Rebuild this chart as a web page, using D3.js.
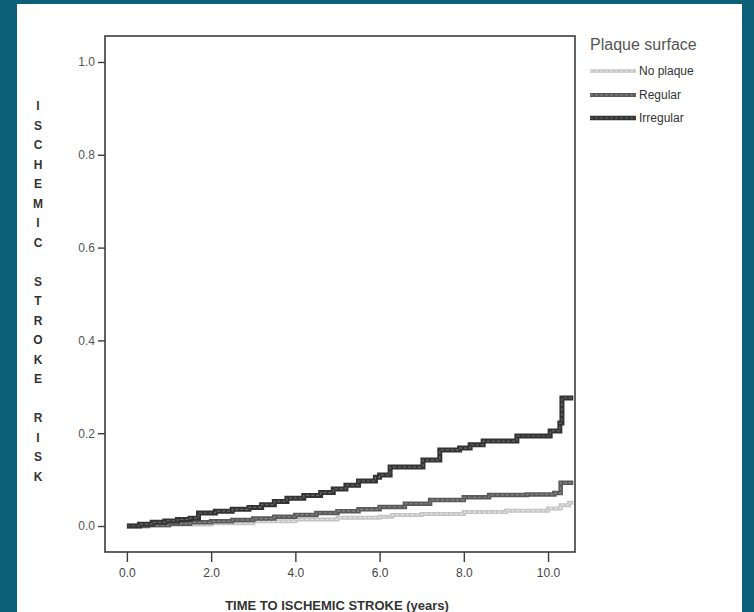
<!DOCTYPE html>
<head>
    <title>Ischemic stroke risk by plaque surface</title>
    <script src="https://d3js.org/d3.v7.min.js"></script>
</head>
<style>
body {
  margin: 0;
  background: #0d6079;
  font-family: "Liberation Sans", Arial, Helvetica, sans-serif;
}
svg { display: block; }
</style>
<body>
    <svg></svg>
</body>

<script>

    // Data (time in years, cumulative risk)
    var noPlaqueTimes  = [0, 0.5, 1.0, 2.0, 3.0, 4.0, 5.0, 6.0, 6.3, 7.0, 8.0, 9.0, 10.0, 10.3, 10.5];
    var noPlaqueRisk   = [0, 0.001, 0.003, 0.006, 0.010, 0.014, 0.018, 0.020, 0.024, 0.026, 0.030, 0.033, 0.038, 0.045, 0.050];

    var regularTimes   = [0, 0.5, 1.0, 1.5, 2.0, 2.5, 3.0, 3.5, 4.0, 4.5, 5.0, 5.5, 6.0, 6.6, 7.2, 8.0, 8.6, 9.5, 10.15, 10.3];
    var regularRisk    = [0, 0.002, 0.005, 0.008, 0.010, 0.013, 0.016, 0.020, 0.024, 0.028, 0.032, 0.036, 0.041, 0.048, 0.056, 0.062, 0.067, 0.068, 0.071, 0.093];

    var irregularTimes = [0, 0.3, 0.6, 0.9, 1.2, 1.5, 1.7, 2.1, 2.5, 2.9, 3.2, 3.5, 3.8, 4.2, 4.6, 4.9, 5.2, 5.5, 5.9, 6.0, 6.25, 7.03, 7.43, 7.9, 8.15, 8.46, 9.26, 10.05, 10.28, 10.33];
    var irregularRisk  = [0, 0.004, 0.008, 0.011, 0.014, 0.017, 0.028, 0.032, 0.036, 0.040, 0.046, 0.053, 0.060, 0.066, 0.072, 0.080, 0.088, 0.097, 0.105, 0.110, 0.127, 0.142, 0.164, 0.168, 0.175, 0.183, 0.194, 0.205, 0.222, 0.276];

    var endTime = 10.6;

    var xTicks = [0, 2, 4, 6, 8, 10];
    var yTicks = [0, 0.2, 0.4, 0.6, 0.8, 1.0];

    var seriesNames = ["No plaque", "Regular", "Irregular"];
    var yTitleWords = ["ISCHEMIC", "STROKE", "RISK"];

    // Sizes
    var width = 754;
    var height = 612;

    var svg = d3.select('svg')
        .attr('width', width)
        .attr('height', height);

    // white page inside the teal frame
    svg.append('rect')
        .attr('x', 17).attr('y', 4)
        .attr('width', 725).attr('height', 610)
        .attr('fill', '#ffffff');

    var x = d3.scaleLinear().domain([-0.52, 10.64]).range([105, 575]);
    var y = d3.scaleLinear().domain([-0.056, 1.056]).range([552, 36]);

    // series styles: base stroke + speckled inner dash
    var styles = [
        { base: '#c4c4c4', inner: '#e6e6e6', w: 4 },
        { base: '#5a5a5a', inner: '#8a8a8a', w: 4.5 },
        { base: '#333333', inner: '#6a6a6a', w: 5 }
    ];

    var series = [
        { times: noPlaqueTimes, risk: noPlaqueRisk },
        { times: regularTimes, risk: regularRisk },
        { times: irregularTimes, risk: irregularRisk }
    ].map(function (s) {
        var pts = s.times.map(function (t, i) { return [t, s.risk[i]]; });
        pts.push([endTime, s.risk[s.risk.length - 1]]);
        return pts;
    });

    var line = d3.line()
        .x(function (d) { return x(d[0]); })
        .y(function (d) { return y(d[1]); })
        .curve(d3.curveStepAfter);

    // draw curves (no plaque first so darker ones sit on top)
    series.forEach(function (pts, i) {
        svg.append('path')
            .attr('d', line(pts))
            .attr('fill', 'none')
            .attr('stroke', styles[i].base)
            .attr('stroke-width', styles[i].w);
        svg.append('path')
            .attr('d', line(pts))
            .attr('fill', 'none')
            .attr('stroke', styles[i].inner)
            .attr('stroke-width', 1.2)
            .attr('stroke-dasharray', '3,2');
    });

    // frame
    svg.append('rect')
        .attr('x', x.range()[0]).attr('y', y.range()[1])
        .attr('width', x.range()[1] - x.range()[0])
        .attr('height', y.range()[0] - y.range()[1])
        .attr('fill', 'none')
        .attr('stroke', '#3c3c3c')
        .attr('stroke-width', 1.6);

    // y axis
    var yAxis = svg.append('g')
        .attr('transform', 'translate(' + x.range()[0] + ',0)')
        .call(d3.axisLeft(y).tickValues(yTicks).tickSize(7).tickPadding(3)
            .tickFormat(d3.format('.1f')));
    yAxis.select('.domain').remove();
    yAxis.selectAll('line').attr('stroke', '#3c3c3c').attr('stroke-width', 1.4);
    yAxis.selectAll('text')
        .attr('fill', '#555')
        .style('font-size', '12px')
        .style('font-family', '"Liberation Sans", Arial, sans-serif');

    // x axis
    var xAxis = svg.append('g')
        .attr('transform', 'translate(0,' + y.range()[0] + ')')
        .call(d3.axisBottom(x).tickValues(xTicks).tickSize(10).tickPadding(6)
            .tickFormat(d3.format('.1f')));
    xAxis.select('.domain').remove();
    xAxis.selectAll('line').attr('stroke', '#3c3c3c').attr('stroke-width', 1.4);
    xAxis.selectAll('text')
        .attr('fill', '#444')
        .style('font-size', '12px')
        .style('font-family', '"Liberation Sans", Arial, sans-serif');

    // x title
    svg.append('text')
        .attr('x', 337).attr('y', 610)
        .attr('text-anchor', 'middle')
        .attr('fill', '#333')
        .style('font-size', '13px')
        .style('font-weight', 'bold')
        .text('TIME TO ISCHEMIC STROKE (years)');

    // y title: stacked letters, a blank line between words
    var letters = [];
    yTitleWords.forEach(function (w, wi) {
        if (wi > 0) letters.push(' ');
        w.split('').forEach(function (c) { letters.push(c); });
    });
    svg.append('g').selectAll('text')
        .data(letters)
        .enter().append('text')
        .attr('x', 38)
        .attr('y', function (d, i) { return 110 + i * 19.5; })
        .attr('text-anchor', 'middle')
        .attr('fill', '#333')
        .style('font-size', '12px')
        .style('font-weight', 'bold')
        .text(function (d) { return d; });

    // legend
    svg.append('text')
        .attr('x', 590).attr('y', 50)
        .attr('fill', '#555')
        .style('font-size', '16px')
        .text('Plaque surface');

    var legendY = [71, 95, 118];
    seriesNames.forEach(function (name, i) {
        svg.append('line')
            .attr('x1', 590).attr('x2', 636)
            .attr('y1', legendY[i]).attr('y2', legendY[i])
            .attr('stroke', styles[i].base)
            .attr('stroke-width', styles[i].w - 0.5);
        svg.append('line')
            .attr('x1', 590).attr('x2', 636)
            .attr('y1', legendY[i]).attr('y2', legendY[i])
            .attr('stroke', styles[i].inner)
            .attr('stroke-width', 1)
            .attr('stroke-dasharray', '3,2');
        svg.append('text')
            .attr('x', 639).attr('y', legendY[i] + 4)
            .attr('fill', '#333')
            .style('font-size', '12px')
            .text(name);
    });

</script>
